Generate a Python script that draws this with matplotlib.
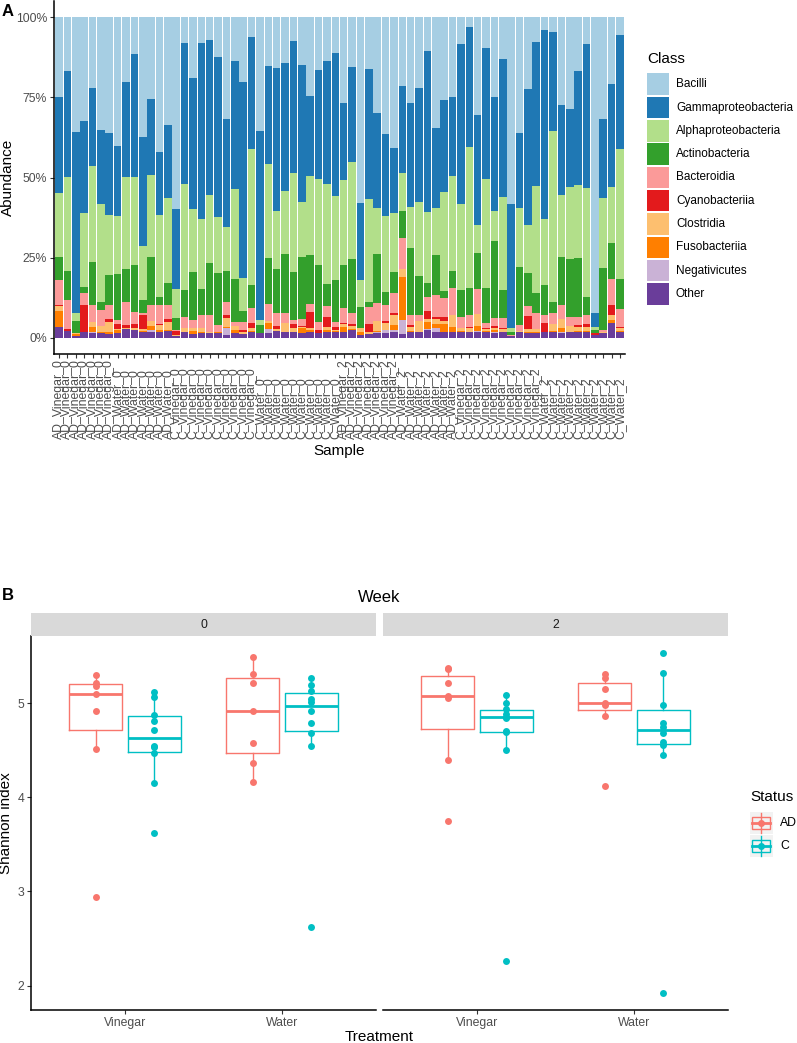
import numpy as np
import matplotlib
matplotlib.use("Agg")
import matplotlib.pyplot as plt
import matplotlib.transforms as mtransforms
from matplotlib.patches import Rectangle

plt.rcParams['font.family'] = ['Liberation Sans', 'DejaVu Sans']

# ---------------- data: panel A (relative abundance per sample) ----------------
groups = ["AD_Vinegar_0", "AD_Water_0", "C_Vinegar_0", "C_Water_0",
          "AD_Vinegar_2", "AD_Water_2", "C_Vinegar_2", "C_Water_2"]
group_sizes = [7, 7, 10, 10, 7, 7, 10, 10]

classes = ["Bacilli", "Gammaproteobacteria", "Alphaproteobacteria", "Actinobacteria",
           "Bacteroidia", "Cyanobacteriia", "Clostridia", "Fusobacteriia",
           "Negativicutes", "Other"]
class_colors = ["#A6CEE3", "#1F78B4", "#B2DF8A", "#33A02C", "#FB9A99",
                "#E31A1C", "#FDBF6F", "#FF7F00", "#CAB2D6", "#6A3D9A"]

bacilli = [25.0, 16.8, 35.9, 32.4, 22.0, 35.2, 36.0, 40.2, 20.2, 11.6,
           37.3, 25.6, 42.0, 33.6, 59.9, 8.2, 18.9, 8.0, 7.2, 12.4,
           31.9, 13.7, 20.3, 6.3, 35.4, 15.2, 16.0, 14.2, 7.5, 15.0,
           24.6, 16.5, 13.7, 11.3, 26.7, 15.5, 58.0, 16.3, 30.0, 36.6,
           40.7, 21.5, 26.7, 22.0, 10.6, 34.7, 25.8, 25.0, 8.5, 3.0,
           30.5, 9.8, 25.0, 13.2, 58.3, 36.2, 22.5, 7.9, 4.1, 4.8,
           27.4, 28.5, 16.7, 8.5, 92.3, 31.8, 20.9, 5.6]
gamma = [29.7, 32.9, 56.4, 28.8, 24.3, 23.0, 25.7, 21.8, 29.5, 38.1,
         34.0, 23.6, 19.7, 22.9, 24.9, 43.9, 40.9, 54.9, 48.3, 49.8,
         33.6, 40.0, 61.1, 34.8, 59.0, 30.7, 44.5, 40.0, 41.2, 42.7,
         24.9, 34.1, 38.2, 44.5, 24.1, 29.8, 23.9, 40.3, 29.6, 25.4,
         20.3, 27.0, 32.4, 35.6, 50.1, 24.9, 28.7, 24.4, 49.9, 37.4,
         34.3, 40.8, 35.3, 43.0, 38.7, 23.4, 42.3, 44.7, 58.8, 30.6,
         28.1, 24.4, 35.6, 44.7, 4.2, 24.5, 32.0, 35.6]
alpha = [20.2, 29.5, 2.3, 23.0, 30.0, 30.5, 18.7, 18.1, 28.9, 27.6,
         16.9, 25.5, 25.4, 26.3, 9.1, 32.9, 19.8, 21.7, 21.2, 17.7,
         13.5, 28.0, 10.1, 42.4, 1.6, 29.1, 18.1, 19.7, 30.9, 17.0,
         24.6, 26.8, 31.2, 26.1, 26.6, 30.0, 8.3, 32.2, 14.3, 23.7,
         18.4, 11.9, 12.8, 23.1, 22.3, 14.6, 30.9, 29.6, 26.6, 44.1,
         8.8, 33.8, 9.4, 28.8, 1.0, 18.4, 15.1, 33.5, 20.6, 53.3,
         19.4, 22.5, 22.9, 34.1, 1.0, 22.0, 17.4, 40.5]
actino = [7.0, 9.0, 3.9, 1.9, 13.3, 2.6, 9.3, 14.3, 10.2, 14.5,
          4.1, 15.0, 2.6, 6.9, 3.6, 8.4, 14.8, 8.2, 16.1, 16.1,
          9.7, 13.2, 3.4, 7.3, 2.5, 14.4, 13.7, 18.4, 14.8, 19.5,
          15.3, 17.5, 6.9, 13.0, 13.4, 16.8, 6.8, 1.4, 15.3, 4.0,
          6.7, 8.3, 20.9, 12.1, 4.1, 12.3, 2.0, 5.5, 8.4, 8.3,
          11.2, 11.0, 24.2, 8.7, 1.1, 18.0, 10.0, 6.2, 9.3, 3.6,
          14.8, 18.0, 18.2, 5.5, 1.0, 19.2, 11.3, 9.4]
bacteroidia = [7.8, 9.0, 0.0, 3.6, 5.4, 4.9, 4.5, 1.2, 7.2, 3.7,
               0.6, 5.1, 5.8, 4.5, 0.2, 3.6, 2.6, 4.0, 5.4, 2.0,
               4.2, 1.5, 2.5, 4.6, 0.0, 5.2, 4.0, 3.1, 1.1, 2.0,
               2.4, 2.5, 3.5, 1.6, 4.5, 3.5, 0.0, 5.5, 5.6, 5.0,
               6.0, 9.7, 3.2, 2.0, 4.5, 7.0, 6.0, 8.5, 3.5, 3.8,
               7.8, 1.5, 2.5, 3.2, 0.3, 1.8, 3.3, 5.0, 2.5, 3.5,
               4.5, 2.8, 2.5, 2.8, 0.0, 0.5, 8.1, 5.5]
cyano = [0.3, 0.5, 0.0, 8.3, 0.0, 0.0, 0.7, 1.5, 1.0, 1.5,
         4.2, 0.0, 0.5, 0.8, 1.5, 0.0, 0.0, 0.0, 0.0, 0.0,
         1.0, 0.0, 0.8, 1.5, 0.0, 0.0, 1.0, 0.0, 1.5, 0.3,
         5.2, 1.0, 3.2, 1.0, 0.3, 0.8, 0.0, 2.5, 0.0, 0.6,
         0.8, 0.0, 0.5, 0.0, 2.5, 0.5, 1.4, 0.0, 0.0, 0.4,
         0.0, 0.3, 0.4, 0.4, 0.0, 0.0, 4.0, 0.0, 2.8, 0.0,
         0.0, 0.0, 0.8, 1.0, 0.5, 0.0, 3.1, 0.3]
clostridia = [1.5, 0.0, 0.4, 0.3, 1.5, 2.0, 3.1, 0.5, 0.3, 0.5,
              0.8, 1.5, 1.5, 2.5, 0.2, 1.0, 0.7, 1.5, 0.3, 0.3,
              2.8, 1.2, 0.5, 1.0, 0.0, 0.8, 0.4, 2.6, 1.0, 0.5,
              0.4, 0.2, 0.8, 0.3, 1.0, 0.8, 1.0, 0.5, 3.0, 2.2,
              3.0, 2.5, 1.3, 3.2, 1.0, 1.5, 1.0, 3.5, 0.8, 1.0,
              3.6, 0.5, 0.8, 0.7, 0.0, 0.5, 1.0, 0.8, 0.2, 2.0,
              2.8, 1.8, 1.0, 1.2, 0.0, 0.5, 1.6, 0.8]
fuso = [5.0, 0.0, 0.6, 0.0, 1.5, 0.3, 0.8, 1.0, 0.0, 0.0,
        0.1, 1.2, 0.5, 0.4, 0.0, 0.3, 1.0, 0.3, 0.0, 0.2,
        0.3, 0.8, 0.0, 0.4, 0.0, 1.8, 0.0, 0.3, 0.2, 1.5,
        0.7, 0.0, 0.5, 0.5, 1.4, 0.3, 1.2, 0.0, 0.4, 0.0,
        1.5, 13.6, 0.2, 0.0, 2.0, 1.5, 2.2, 1.5, 0.5, 0.3,
        1.6, 0.6, 0.6, 0.3, 0.0, 0.0, 0.3, 0.4, 0.0, 0.5,
        1.2, 0.3, 0.5, 0.5, 0.0, 0.0, 1.0, 0.5]
negativicutes = [0.2, 0.0, 0.0, 0.0, 0.5, 0.0, 0.0, 0.0, 0.0, 0.0,
                 0.0, 0.5, 0.0, 0.0, 0.0, 0.0, 0.0, 0.0, 0.0, 0.0,
                 2.0, 0.0, 0.0, 0.0, 0.0, 1.2, 0.0, 0.0, 0.0, 0.0,
                 0.0, 0.0, 0.0, 0.0, 0.0, 0.0, 0.0, 0.0, 0.3, 1.0,
                 0.6, 4.3, 0.0, 0.3, 0.4, 1.2, 0.0, 0.3, 0.0, 0.0,
                 0.3, 0.0, 0.3, 0.0, 0.0, 0.0, 0.0, 0.0, 0.0, 0.0,
                 0.3, 0.0, 0.0, 0.0, 0.0, 0.0, 0.0, 0.0]
other = [3.3, 2.3, 0.5, 1.7, 1.5, 1.5, 1.2, 1.4, 2.7, 2.5,
         2.0, 2.0, 2.0, 2.1, 0.6, 1.7, 1.3, 1.4, 1.5, 1.5,
         1.0, 1.6, 1.3, 1.7, 1.5, 1.6, 2.3, 1.7, 1.8, 1.5,
         1.9, 1.4, 2.0, 1.7, 2.0, 2.5, 0.8, 1.3, 1.5, 1.5,
         2.0, 1.2, 2.0, 1.7, 2.5, 1.8, 2.0, 1.7, 1.8, 1.7,
         1.9, 1.7, 1.5, 1.7, 0.6, 1.7, 1.5, 1.5, 1.7, 1.7,
         1.5, 1.7, 1.8, 1.7, 1.0, 1.5, 4.6, 1.8]

# ---------------- data: panel B (Shannon index) ----------------
treatments = ["Vinegar", "Water"]
weeks = ["0", "2"]
status = ["AD", "C"]
status_colors = ["#F8766D", "#00BFC4"]

shannon = {
    ("0", "Vinegar", "AD"): [5.30, 5.22, 5.18, 5.10, 4.92, 4.51, 2.94],
    ("0", "Vinegar", "C"): [5.12, 5.07, 4.88, 4.815, 4.72, 4.55, 4.53, 4.47, 4.157, 3.62],
    ("0", "Water", "AD"): [5.495, 5.31, 5.22, 4.92, 4.58, 4.36, 4.16],
    ("0", "Water", "C"): [5.265, 5.19, 5.13, 5.045, 5.017, 4.92, 4.79, 4.68, 4.55, 2.62],
    ("2", "Vinegar", "AD"): [5.375, 5.365, 5.215, 5.075, 5.06, 4.40, 3.754],
    ("2", "Vinegar", "C"): [5.088, 5.007, 4.94, 4.883, 4.858, 4.84, 4.705, 4.695, 4.50, 2.264],
    ("2", "Water", "AD"): [5.31, 5.27, 5.152, 5.00, 4.985, 4.865, 4.119],
    ("2", "Water", "C"): [5.534, 5.325, 4.979, 4.79, 4.745, 4.68, 4.59, 4.554, 4.454, 1.921],
}

# ---------------- figure ----------------
W, H = 797, 1043
fig = plt.figure(figsize=(W / 100, H / 100), dpi=100)
GREY30 = "#4D4D4D"


def px_axes(x0, y0, x1, y1, **kw):
    return fig.add_axes([x0 / W, 1 - y1 / H, (x1 - x0) / W, (y1 - y0) / H], **kw)


def classic(ax):
    for s in ["top", "right"]:
        ax.spines[s].set_visible(False)
    for s in ["left", "bottom"]:
        ax.spines[s].set_linewidth(1.1)
        ax.spines[s].set_color("black")
    ax.tick_params(length=2.75, width=0.8, color="#333333", labelsize=8.8,
                   labelcolor=GREY30, pad=2.2)


# ----- panel A -----
samples = []
for g, n in zip(groups, group_sizes):
    samples += [g] * n

series = [bacilli, gamma, alpha, actino, bacteroidia, cyano, clostridia,
          fuso, negativicutes, other]
mat = np.array(series, dtype=float)
mat = mat / mat.sum(axis=0)
x = np.arange(len(samples))

axA = px_axes(54, 1, 625, 354)
classic(axA)
bottom = np.zeros(len(samples))
for k in range(len(classes) - 1, -1, -1):
    axA.bar(x, mat[k], bottom=bottom, width=0.9, color=class_colors[k], linewidth=0)
    bottom += mat[k]
axA.set_xlim(-0.6, len(samples) - 0.4)
axA.set_ylim(-0.05, 1.05)
axA.set_yticks([0, 0.25, 0.5, 0.75, 1.0])
axA.set_yticklabels(["0%", "25%", "50%", "75%", "100%"])
axA.set_xticks(x)
axA.set_xticklabels([])
trans = mtransforms.blended_transform_factory(axA.transData, axA.transAxes)
for i, lab in enumerate(samples):
    axA.text(i, -0.241, lab, rotation=90, ha="center", va="bottom",
             transform=trans, fontsize=8.8, color=GREY30)

# ----- panel B -----
ylo, yhi = 1.741, 5.714
dodge = 0.1875
for w, (x0, x1) in zip(weeks, [(31, 376), (383, 728)]):
    ax = px_axes(x0, 636, x1, 1010)
    classic(ax)
    for ti, t in enumerate(treatments):
        for si, s in enumerate(status):
            vals = shannon[(w, t, s)]
            pos = ti + 1 + (-dodge if si == 0 else dodge)
            c = status_colors[si]
            ax.boxplot([vals], positions=[pos], widths=0.3375, showcaps=False,
                       showfliers=False, manage_ticks=False,
                       boxprops=dict(color=c, linewidth=1.0),
                       whiskerprops=dict(color=c, linewidth=1.0),
                       medianprops=dict(color=c, linewidth=2.0))
            ax.plot([pos] * len(vals), vals, "o", ms=5, color=c, mec="none", zorder=3)
    ax.set_xlim(0.4, 2.6)
    ax.set_ylim(ylo, yhi)
    ax.set_xticks([1, 2])
    ax.set_xticklabels(treatments)
    if w == "0":
        ax.set_yticks([2, 3, 4, 5])
    else:
        ax.spines["left"].set_visible(False)
        ax.set_yticks([])
    strip = px_axes(x0, 613, x1, 636)
    strip.set_facecolor("#D9D9D9")
    strip.set_xticks([])
    strip.set_yticks([])
    for sp in strip.spines.values():
        sp.set_visible(False)
    strip.text(0.5, 0.5, w, ha="center", va="center", fontsize=8.8,
               color="#1A1A1A", transform=strip.transAxes)

# ----- overlay for titles and legends (pixel coordinates) -----
ov = fig.add_axes([0, 0, 1, 1], facecolor="none")
ov.set_xlim(0, W)
ov.set_ylim(H, 0)
ov.axis("off")

ov.text(2, 12, "A", fontsize=12, fontweight="bold", va="center", ha="left")
ov.text(8, 177, "Abundance", fontsize=11, rotation=90, ha="center", va="center")
ov.text(339.5, 451, "Sample", fontsize=11, ha="center", va="center")

ov.text(647, 59, "Class", fontsize=11, ha="left", va="center")
for k, (name, col) in enumerate(zip(classes, class_colors)):
    yc = 84.2 + 23.3 * k
    ov.add_patch(Rectangle((647, yc - 10.8), 22, 21.6, facecolor=col,
                           edgecolor="none"))
    ov.text(676, yc, name, fontsize=8.5, ha="left", va="center")

ov.text(2, 596, "B", fontsize=12, fontweight="bold", va="center", ha="left")
ov.text(379.5, 597, "Week", fontsize=12, ha="center", va="center")
ov.text(6, 823, "Shannon index", fontsize=11, rotation=90, ha="center", va="center")
ov.text(379.5, 1037, "Treatment", fontsize=11, ha="center", va="center")

ov.text(750, 797, "Status", fontsize=11, ha="left", va="center")
for si, (s, col) in enumerate(zip(status, status_colors)):
    yc = 822.5 + 23.3 * si
    ov.add_patch(Rectangle((750, yc - 11), 23, 22, facecolor="#F2F2F2",
                           edgecolor="none"))
    ov.plot([761.5, 761.5], [yc - 10, yc + 10], color=col, lw=1.0)
    ov.add_patch(Rectangle((752.5, yc - 6), 18, 12, facecolor="#F2F2F2",
                           edgecolor=col, lw=1.0))
    ov.plot([752.5, 770.5], [yc, yc], color=col, lw=2.0)
    ov.plot([761.5], [yc], "o", ms=5, color=col, mec="none")
    ov.text(780, yc, s, fontsize=8.8, ha="left", va="center")

fig.savefig("out.png", dpi=100)
